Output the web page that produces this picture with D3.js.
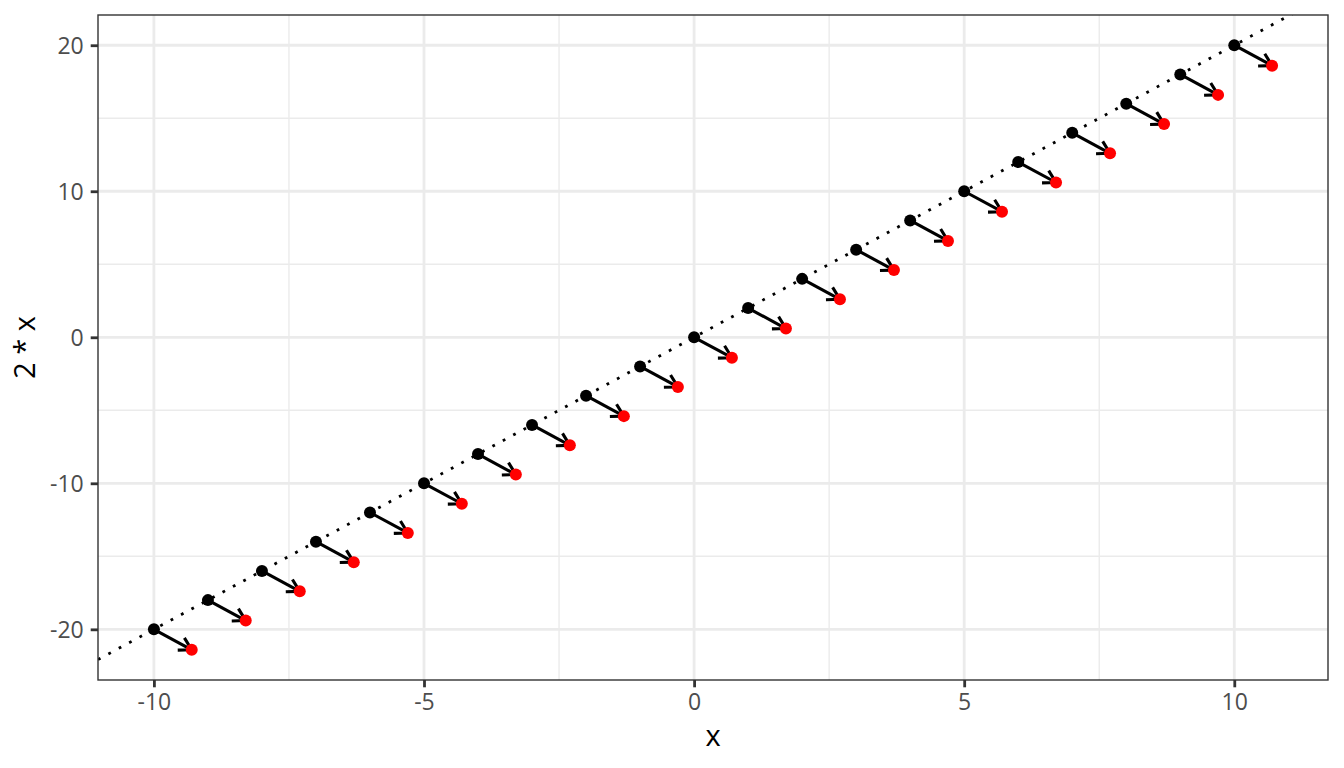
<!DOCTYPE html>
<html><head><meta charset="utf-8">
<script src="https://cdn.jsdelivr.net/npm/d3@7"></script>
<style>body{margin:0;background:#fff}svg{display:block}text{font-family:"Open Sans","Noto Sans",sans-serif}</style>
</head><body>
<script>
const xs = [-10,-9,-8,-7,-6,-5,-4,-3,-2,-1,0,1,2,3,4,5,6,7,8,9,10];
const ys = [-20,-18,-16,-14,-12,-10,-8,-6,-4,-2,0,2,4,6,8,10,12,14,16,18,20];
const xEnd = [-9.3,-8.3,-7.3,-6.3,-5.3,-4.3,-3.3,-2.3,-1.3,-0.3,0.7,1.7,2.7,3.7,4.7,5.7,6.7,7.7,8.7,9.7,10.7];
const yEnd = [-21.4,-19.4,-17.4,-15.4,-13.4,-11.4,-9.4,-7.4,-5.4,-3.4,-1.4,0.6,2.6,4.6,6.6,8.6,10.6,12.6,14.6,16.6,18.6];
const xTicks = [-10,-5,0,5,10];
const yTicks = [-20,-10,0,10,20];
const xMinor = [-7.5,-2.5,2.5,7.5];
const yMinor = [-15,-5,5,15];
const xTitle = "x", yTitle = "2 * x";

const W=1344,H=768;
const m={l:98,r:16,t:15,b:88};
const svg=d3.select("body").append("svg").attr("width",W).attr("height",H);
const xmin=d3.min(xs.concat(xEnd)), xmax=d3.max(xs.concat(xEnd));
const ymin=d3.min(ys.concat(yEnd)), ymax=d3.max(ys.concat(yEnd));
const xe=(xmax-xmin)*0.05, ye=(ymax-ymin)*0.05;
const x=d3.scaleLinear().domain([xmin-xe,xmax+xe]).range([m.l,W-m.r]);
const y=d3.scaleLinear().domain([ymin-ye,ymax+ye]).range([H-m.b,m.t]);
const g=svg.append("g");
g.selectAll(".xmin").data(xMinor).join("line").attr("x1",d=>x(d)).attr("x2",d=>x(d)).attr("y1",m.t).attr("y2",H-m.b).attr("stroke","#EBEBEB").attr("stroke-width",1.4);
g.selectAll(".ymin").data(yMinor).join("line").attr("y1",d=>y(d)).attr("y2",d=>y(d)).attr("x1",m.l).attr("x2",W-m.r).attr("stroke","#EBEBEB").attr("stroke-width",1.4);
g.selectAll(".xmaj").data(xTicks).join("line").attr("x1",d=>x(d)).attr("x2",d=>x(d)).attr("y1",m.t).attr("y2",H-m.b).attr("stroke","#EBEBEB").attr("stroke-width",2.8);
g.selectAll(".ymaj").data(yTicks).join("line").attr("y1",d=>y(d)).attr("y2",d=>y(d)).attr("x1",m.l).attr("x2",W-m.r).attr("stroke","#EBEBEB").attr("stroke-width",2.8);
svg.append("clipPath").attr("id","clip").append("rect").attr("x",m.l).attr("y",m.t).attr("width",W-m.l-m.r).attr("height",H-m.t-m.b);
const dom=x.domain();
svg.append("line").attr("clip-path","url(#clip)")
  .attr("x1",x(dom[0])).attr("y1",y(2*dom[0])).attr("x2",x(dom[1])).attr("y2",y(2*dom[1]))
  .attr("stroke","#000").attr("stroke-width",2.8).attr("stroke-dasharray","2.8 9").attr("stroke-linecap","butt");
const pts=xs.map((d,i)=>({x:d,y:ys[i],xe:xEnd[i],ye:yEnd[i]}));
const ag=svg.append("g").attr("stroke","#000").attr("stroke-width",3.1).attr("fill","none").attr("stroke-linecap","butt").attr("stroke-linejoin","round");
pts.forEach(p=>{
  const x1=x(p.x),y1=y(p.y),x2=x(p.xe),y2=y(p.ye);
  ag.append("line").attr("x1",x1).attr("y1",y1).attr("x2",x2).attr("y2",y2);
  const a=Math.atan2(y2-y1,x2-x1), L=14, h=Math.PI/6;
  ag.append("path").attr("d",`M${x2-L*Math.cos(a-h)},${y2-L*Math.sin(a-h)}L${x2},${y2}L${x2-L*Math.cos(a+h)},${y2-L*Math.sin(a+h)}`);
});
svg.append("g").selectAll("circle").data(pts).join("circle").attr("cx",d=>x(d.x)).attr("cy",d=>y(d.y)).attr("r",6).attr("fill","#000");
svg.append("g").selectAll("circle").data(pts).join("circle").attr("cx",d=>x(d.xe)).attr("cy",d=>y(d.ye)).attr("r",6).attr("fill","#FF0000");
svg.append("rect").attr("x",m.l).attr("y",m.t).attr("width",W-m.l-m.r).attr("height",H-m.t-m.b).attr("fill","none").attr("stroke","#333").attr("stroke-width",1.4);
const xa=svg.append("g").attr("transform",`translate(0,${H-m.b})`).call(d3.axisBottom(x).tickValues(xTicks).tickSize(7.3).tickPadding(6).tickFormat(d3.format("d")));
const ya=svg.append("g").attr("transform",`translate(${m.l},0)`).call(d3.axisLeft(y).tickValues(yTicks).tickSize(7.3).tickPadding(7).tickFormat(d3.format("d")));
[xa,ya].forEach(a=>{a.attr("font-size",null).attr("font-family",null);a.select(".domain").remove();a.selectAll(".tick line").attr("stroke","#333").attr("stroke-width",2.8);a.selectAll(".tick text").attr("fill","#4D4D4D").style("font-size","23px");});
xa.selectAll(".tick text").text(d=>d<0?"-"+Math.abs(d):d).attr("dy","0.73em");
ya.selectAll(".tick text").text(d=>d<0?"-"+Math.abs(d):d).attr("dy","0.36em");
svg.append("text").attr("x",(m.l+W-m.r)/2).attr("y",746).attr("text-anchor","middle").style("font-size","29px").attr("fill","#000").text(xTitle);
svg.append("text").attr("transform",`translate(35,${(m.t+H-m.b)/2}) rotate(-90)`).attr("text-anchor","middle").style("font-size","29px").attr("fill","#000").text(yTitle);
</script>
</body></html>
